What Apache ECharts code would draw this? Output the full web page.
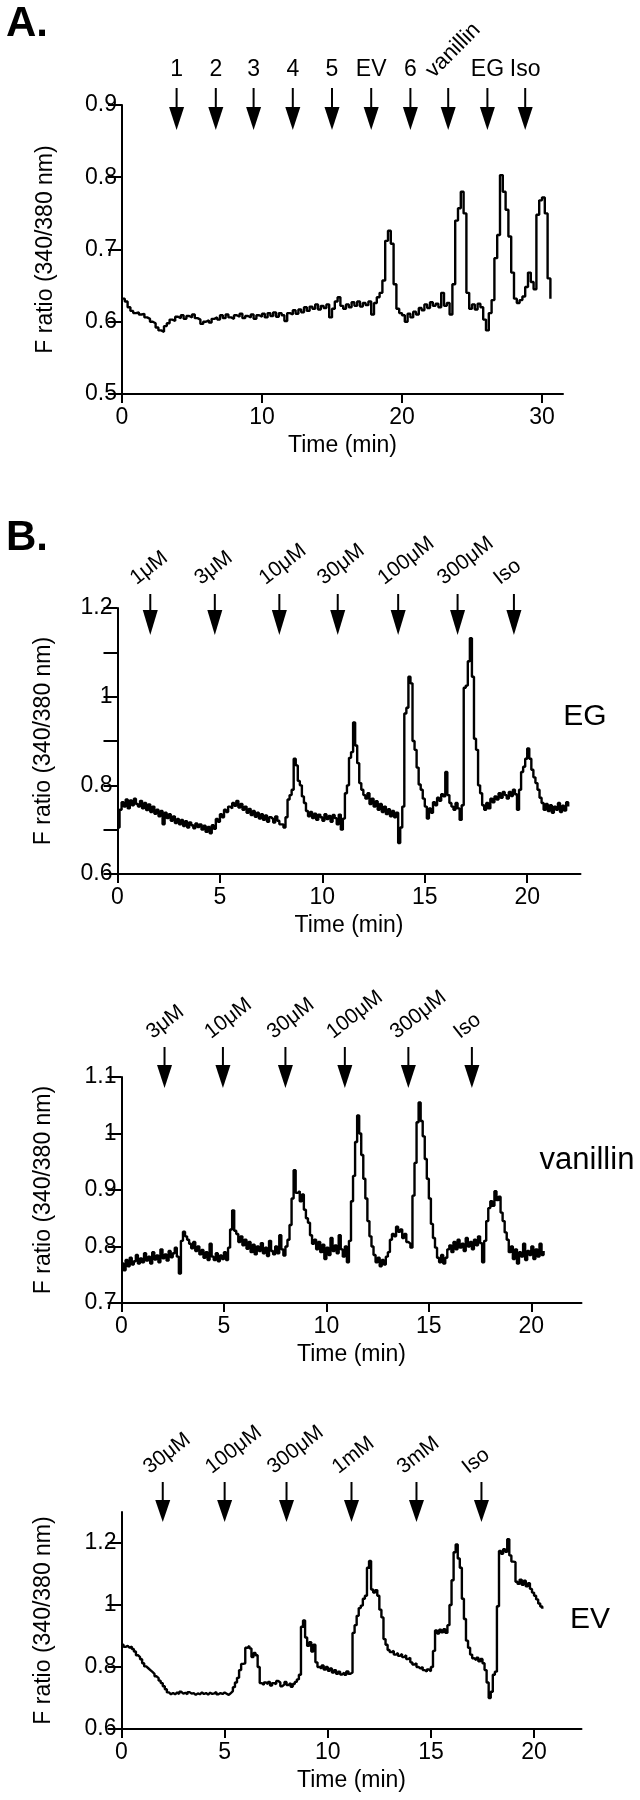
<!DOCTYPE html>
<html><head><meta charset="utf-8">
<script src="https://cdn.jsdelivr.net/npm/echarts@6/dist/echarts.min.js"></script>
<style>html,body{margin:0;padding:0;background:#fff}#c{width:640px;height:1800px}</style>
</head><body><div id="c"></div>
<script>
// ---------- DATA ----------
// Panel A: sampled every 0.2 min from t = 0
const A_DT = 0.2;
const A_values = [
0.632,0.628,0.620,0.615,0.612,0.613,0.610,0.611,0.606,0.604,
0.600,0.598,0.592,0.588,0.586,0.594,0.598,0.603,0.601,0.607,
0.605,0.609,0.604,0.608,0.606,0.610,0.605,0.603,0.597,0.600,
0.602,0.599,0.604,0.606,0.603,0.609,0.605,0.610,0.606,0.604,
0.609,0.607,0.611,0.605,0.608,0.606,0.610,0.604,0.609,0.607,
0.611,0.606,0.612,0.608,0.613,0.607,0.612,0.609,0.601,0.612,
0.610,0.616,0.611,0.617,0.613,0.620,0.615,0.621,0.618,0.624,
0.617,0.622,0.619,0.624,0.606,0.618,0.628,0.634,0.622,0.618,
0.624,0.620,0.627,0.622,0.628,0.621,0.626,0.623,0.628,0.610,
0.626,0.634,0.640,0.657,0.712,0.726,0.708,0.652,0.618,0.612,
0.609,0.600,0.611,0.606,0.614,0.610,0.619,0.616,0.624,0.619,
0.627,0.622,0.625,0.620,0.640,0.622,0.626,0.610,0.652,0.740,
0.757,0.780,0.750,0.640,0.618,0.624,0.617,0.625,0.620,0.603,
0.588,0.612,0.630,0.688,0.720,0.803,0.780,0.755,0.718,0.668,
0.632,0.626,0.630,0.635,0.648,0.668,0.655,0.645,0.748,0.768,
0.772,0.750,0.660,0.632];
const A_arrowTimes = [3.9, 6.7, 9.4, 12.2, 15.0, 17.8, 20.6, 23.3, 26.1, 28.8];
const A_arrowLabels = ['1','2','3','4','5','EV','6','vanillin','EG','Iso'];
const A_xTicks = [0, 10, 20, 30];
const A_yTicks = [0.5, 0.6, 0.7, 0.8, 0.9];

// Panel B (EG): sampled every 0.1 min
const EG_DT = 0.1;
const EG_values = [
0.705,0.745,0.762,0.752,0.768,0.748,0.766,0.755,0.770,0.758,
0.752,0.765,0.748,0.760,0.744,0.757,0.740,0.752,0.736,0.745,
0.730,0.742,0.712,0.738,0.726,0.735,0.720,0.730,0.715,0.724,
0.712,0.722,0.708,0.719,0.705,0.716,0.710,0.703,0.714,0.706,
0.712,0.700,0.709,0.695,0.706,0.692,0.710,0.702,0.724,0.718,
0.735,0.728,0.745,0.740,0.752,0.748,0.760,0.754,0.765,0.750,
0.758,0.745,0.752,0.738,0.747,0.733,0.742,0.729,0.738,0.725,
0.735,0.722,0.732,0.718,0.728,0.724,0.716,0.730,0.720,0.712,
0.712,0.705,0.728,0.768,0.778,0.790,0.860,0.845,0.810,0.800,
0.775,0.760,0.742,0.730,0.740,0.726,0.736,0.722,0.734,0.728,
0.720,0.735,0.724,0.731,0.718,0.733,0.726,0.712,0.734,0.700,
0.725,0.782,0.800,0.862,0.875,0.942,0.890,0.850,0.805,0.790,
0.778,0.770,0.782,0.758,0.770,0.752,0.764,0.745,0.758,0.740,
0.752,0.735,0.746,0.730,0.742,0.728,0.738,0.670,0.705,0.752,
0.962,0.975,1.045,1.030,0.900,0.880,0.840,0.802,0.790,0.770,
0.752,0.725,0.748,0.738,0.762,0.755,0.772,0.765,0.780,0.775,
0.830,0.778,0.760,0.752,0.745,0.760,0.748,0.722,0.755,1.020,
1.025,1.080,1.132,1.045,0.905,0.880,0.800,0.782,0.755,0.745,
0.760,0.748,0.770,0.762,0.775,0.768,0.782,0.772,0.785,0.778,
0.770,0.785,0.776,0.790,0.780,0.745,0.790,0.830,0.842,0.860,
0.883,0.860,0.835,0.818,0.805,0.790,0.772,0.760,0.745,0.758,
0.742,0.755,0.738,0.752,0.745,0.760,0.740,0.754,0.743,0.762,
0.752];
const EG_arrowTimes = [1.6, 4.75, 7.9, 10.75, 13.7, 16.6, 19.35];
const EG_arrowLabels = ['1\u03bcM','3\u03bcM','10\u03bcM','30\u03bcM','100\u03bcM','300\u03bcM','Iso'];

// Panel B (vanillin): sampled every 0.1 min
const V_DT = 0.1;
const V_values = [
0.770,0.758,0.776,0.765,0.780,0.768,0.774,0.785,0.770,0.779,
0.772,0.788,0.775,0.782,0.770,0.790,0.777,0.784,0.772,0.795,
0.779,0.786,0.775,0.792,0.781,0.788,0.798,0.782,0.752,0.810,
0.826,0.818,0.812,0.805,0.797,0.808,0.792,0.800,0.786,0.794,
0.780,0.790,0.776,0.805,0.782,0.776,0.788,0.774,0.784,0.778,
0.790,0.776,0.798,0.830,0.864,0.828,0.822,0.808,0.818,0.802,
0.812,0.796,0.808,0.790,0.803,0.786,0.800,0.792,0.806,0.788,
0.798,0.783,0.810,0.792,0.786,0.800,0.788,0.820,0.795,0.784,
0.800,0.812,0.838,0.885,0.935,0.895,0.898,0.880,0.892,0.865,
0.850,0.842,0.820,0.805,0.812,0.795,0.808,0.790,0.803,0.778,
0.798,0.785,0.815,0.792,0.802,0.788,0.820,0.795,0.782,0.800,
0.772,0.810,0.880,0.925,0.985,1.032,1.000,0.962,0.920,0.885,
0.845,0.818,0.800,0.785,0.772,0.780,0.765,0.776,0.768,0.782,
0.790,0.812,0.822,0.818,0.835,0.826,0.830,0.815,0.822,0.808,
0.805,0.798,0.890,0.948,1.020,1.055,1.022,0.995,0.955,0.920,
0.885,0.840,0.815,0.798,0.780,0.772,0.785,0.770,0.780,0.795,
0.802,0.790,0.808,0.795,0.812,0.798,0.805,0.792,0.815,0.800,
0.808,0.795,0.812,0.802,0.818,0.806,0.772,0.810,0.845,0.868,
0.880,0.872,0.898,0.882,0.888,0.860,0.845,0.825,0.812,0.790,
0.800,0.778,0.795,0.770,0.790,0.782,0.805,0.776,0.792,0.785,
0.800,0.778,0.795,0.782,0.805,0.785,0.792];
const V_arrowTimes = [2.1, 4.95, 8.0, 10.9, 14.0, 17.1];
const V_arrowLabels = ['3\u03bcM','10\u03bcM','30\u03bcM','100\u03bcM','300\u03bcM','Iso'];

// Panel B (EV): sampled every 0.1 min
const EV_DT = 0.1;
const EV_values = [
0.872,0.865,0.868,0.862,0.866,0.858,0.850,0.838,0.832,0.825,
0.812,0.802,0.796,0.790,0.784,0.778,0.770,0.764,0.756,0.748,
0.738,0.728,0.718,0.712,0.716,0.712,0.718,0.713,0.720,0.714,
0.717,0.712,0.719,0.714,0.716,0.710,0.715,0.712,0.718,0.713,
0.716,0.711,0.717,0.713,0.715,0.719,0.712,0.716,0.713,0.718,
0.714,0.710,0.716,0.722,0.735,0.750,0.765,0.790,0.810,0.812,
0.862,0.868,0.860,0.832,0.845,0.838,0.800,0.748,0.742,0.750,
0.745,0.752,0.740,0.748,0.745,0.755,0.750,0.738,0.744,0.752,
0.742,0.748,0.736,0.745,0.752,0.760,0.775,0.930,0.950,0.895,
0.868,0.880,0.850,0.872,0.815,0.800,0.795,0.805,0.792,0.800,
0.788,0.795,0.782,0.790,0.778,0.785,0.776,0.782,0.775,0.786,
0.778,0.782,0.910,0.935,0.965,0.990,0.998,1.020,1.030,1.120,
1.142,1.050,1.040,1.048,1.030,0.985,0.960,0.890,0.872,0.855,
0.848,0.852,0.840,0.845,0.836,0.842,0.832,0.838,0.826,0.830,
0.815,0.808,0.812,0.800,0.795,0.800,0.790,0.785,0.792,0.786,
0.800,0.852,0.918,0.908,0.920,0.912,0.922,0.910,0.935,1.000,
1.080,1.170,1.195,1.150,1.120,1.020,0.955,0.885,0.862,0.840,
0.828,0.822,0.830,0.818,0.826,0.812,0.790,0.750,0.700,0.720,
0.775,0.785,0.996,1.174,1.165,1.180,1.172,1.212,1.160,1.140,
1.138,1.075,1.068,1.082,1.065,1.078,1.060,1.070,1.052,1.040,
1.030,1.018,1.005,0.995,0.988];
const EV_arrowTimes = [2.0, 5.0, 8.0, 11.15, 14.3, 17.45];
const EV_arrowLabels = ['30\u03bcM','100\u03bcM','300\u03bcM','1mM','3mM','Iso'];

const B_xTicks = [0, 5, 10, 15, 20];
const EG_yTicks = [0.6, 0.7, 0.8, 0.9, 1.0, 1.1, 1.2];
const EG_yLabels = [0.6, 0.8, 1.0, 1.2];
const V_yTicks = [0.7, 0.8, 0.9, 1.0, 1.1];
const EV_yTicks = [0.6, 0.8, 1.0, 1.2];

// ---------- CHART ----------
const FONT = '"Liberation Sans", Arial, Helvetica, sans-serif';
const chart = echarts.init(document.getElementById('c'), null, {renderer: 'canvas'});

const grids = [
  {left: 122, top: 105, width: 441, height: 289},
  {left: 117.5, top: 608, width: 463, height: 266},
  {left: 121.5, top: 1077, width: 460, height: 226},
  {left: 121.5, top: 1512, width: 460, height: 217}
];
const xMax = [31.5, 22.6, 22.45, 22.3];
const yRange = [[0.5, 0.9], [0.6, 1.2], [0.7, 1.1], [0.6, 1.3]];
const xTickSets = [A_xTicks, B_xTicks, B_xTicks, B_xTicks];
const yTickSets = [A_yTicks, EG_yTicks, V_yTicks, EV_yTicks];
const yLabelSets = [A_yTicks, EG_yLabels, V_yTicks, EV_yTicks];
const yNameGap = [65, 62, 66, 66];

const axisLine = {show: true, lineStyle: {color: '#000', width: 2}};
const xAxes = grids.map((g, i) => ({
  type: 'value', gridIndex: i, min: 0, max: xMax[i],
  axisLine: axisLine,
  axisTick: {show: true, length: 9, lineStyle: {color: '#000', width: 2}, customValues: xTickSets[i]},
  axisLabel: {color: '#000', fontFamily: FONT, fontSize: 23, margin: 12, customValues: xTickSets[i]},
  splitLine: {show: false},
  name: 'Time (min)', nameLocation: 'middle', nameGap: 40,
  nameTextStyle: {color: '#000', fontFamily: FONT, fontSize: 23}
}));
const yAxes = grids.map((g, i) => ({
  type: 'value', gridIndex: i, min: yRange[i][0], max: yRange[i][1],
  axisLine: axisLine,
  axisTick: {show: true, length: 14, lineStyle: {color: '#000', width: 2}, customValues: yTickSets[i]},
  axisLabel: {color: '#000', fontFamily: FONT, fontSize: 23, margin: 5, customValues: yLabelSets[i]},
  splitLine: {show: false},
  name: 'F ratio (340/380 nm)', nameLocation: 'middle', nameGap: yNameGap[i], nameRotate: 90,
  nameTextStyle: {color: '#000', fontFamily: FONT, fontSize: 23}
}));

function traceSeries(i, values, dt) {
  return {
    type: 'line', xAxisIndex: i, yAxisIndex: i, step: 'end', showSymbol: false,
    lineStyle: {color: '#000', width: 2.4}, silent: true,
    data: values.map((v, k) => [+(k * dt).toFixed(3), v])
  };
}

const ANG = 38 * Math.PI / 180;
function arrowSeries(i, times, labels, geo) {
  const yTop = yRange[i][1];
  return {
    type: 'custom', xAxisIndex: i, yAxisIndex: i, clip: false, silent: true, z: 5,
    data: times.map(t => [t, yTop]),
    renderItem: function (params, api) {
      const p = api.coord([api.value(0), api.value(1)]);
      const x = p[0], y0 = p[1];
      const lab = labels[params.dataIndex];
      const children = [
        {type: 'line', shape: {x1: x, y1: y0 + geo.shaft, x2: x, y2: y0 + geo.head + 2},
         style: {stroke: '#000', lineWidth: 2}},
        {type: 'polygon', shape: {points: [[x - 7.5, y0 + geo.head], [x + 7.5, y0 + geo.head], [x, y0 + geo.tip]]},
         style: {fill: '#000'}}
      ];
      const rot = geo.rotateAll || lab === 'vanillin';
      if (rot) {
        const ang = geo.rotateAll ? ANG : 45 * Math.PI / 180;
        children.push({type: 'text', x: x + geo.dx, y: y0 + geo.shaft + geo.dy, rotation: ang,
          style: {text: lab, fill: '#000', font: (geo.rotateAll ? 21 : 22) + 'px ' + FONT, align: 'left', verticalAlign: 'bottom'}});
      } else {
        children.push({type: 'text', x: x, y: y0 + geo.labelY,
          style: {text: lab, fill: '#000', font: '23px ' + FONT, align: 'center', verticalAlign: 'middle'}});
      }
      return {type: 'group', children: children};
    }
  };
}

const option = {
  animation: false,
  backgroundColor: '#fff',
  grid: grids,
  xAxis: xAxes,
  yAxis: yAxes,
  series: [
    traceSeries(0, A_values, A_DT),
    traceSeries(1, EG_values, EG_DT),
    traceSeries(2, V_values, V_DT),
    traceSeries(3, EV_values, EV_DT),
    arrowSeries(0, A_arrowTimes, A_arrowLabels, {shaft: -17, head: 2, tip: 25, labelY: -35, dx: -11, dy: -6}),
    arrowSeries(1, EG_arrowTimes, EG_arrowLabels, {shaft: -14, head: 2, tip: 27, dx: -11, dy: -5, rotateAll: true}),
    arrowSeries(2, V_arrowTimes, V_arrowLabels, {shaft: -30, head: -12, tip: 11, dx: -9, dy: -4, rotateAll: true}),
    arrowSeries(3, EV_arrowTimes, EV_arrowLabels, {shaft: -30, head: -12, tip: 10, dx: -10, dy: -4, rotateAll: true})
  ],
  graphic: [
    {type: 'text', left: 6, top: 3, style: {text: 'A.', fill: '#000', font: 'bold 42px ' + FONT}},
    {type: 'text', left: 6, top: 517, style: {text: 'B.', fill: '#000', font: 'bold 42px ' + FONT}},
    {type: 'text', x: 585, y: 717, style: {text: 'EG', fill: '#000', font: '30px ' + FONT, align: 'center', verticalAlign: 'middle'}},
    {type: 'text', x: 587, y: 1160, style: {text: 'vanillin', fill: '#000', font: '31px ' + FONT, align: 'center', verticalAlign: 'middle'}},
    {type: 'text', x: 590, y: 1620, style: {text: 'EV', fill: '#000', font: '30px ' + FONT, align: 'center', verticalAlign: 'middle'}}
  ]
};
chart.setOption(option);
</script></body></html>
